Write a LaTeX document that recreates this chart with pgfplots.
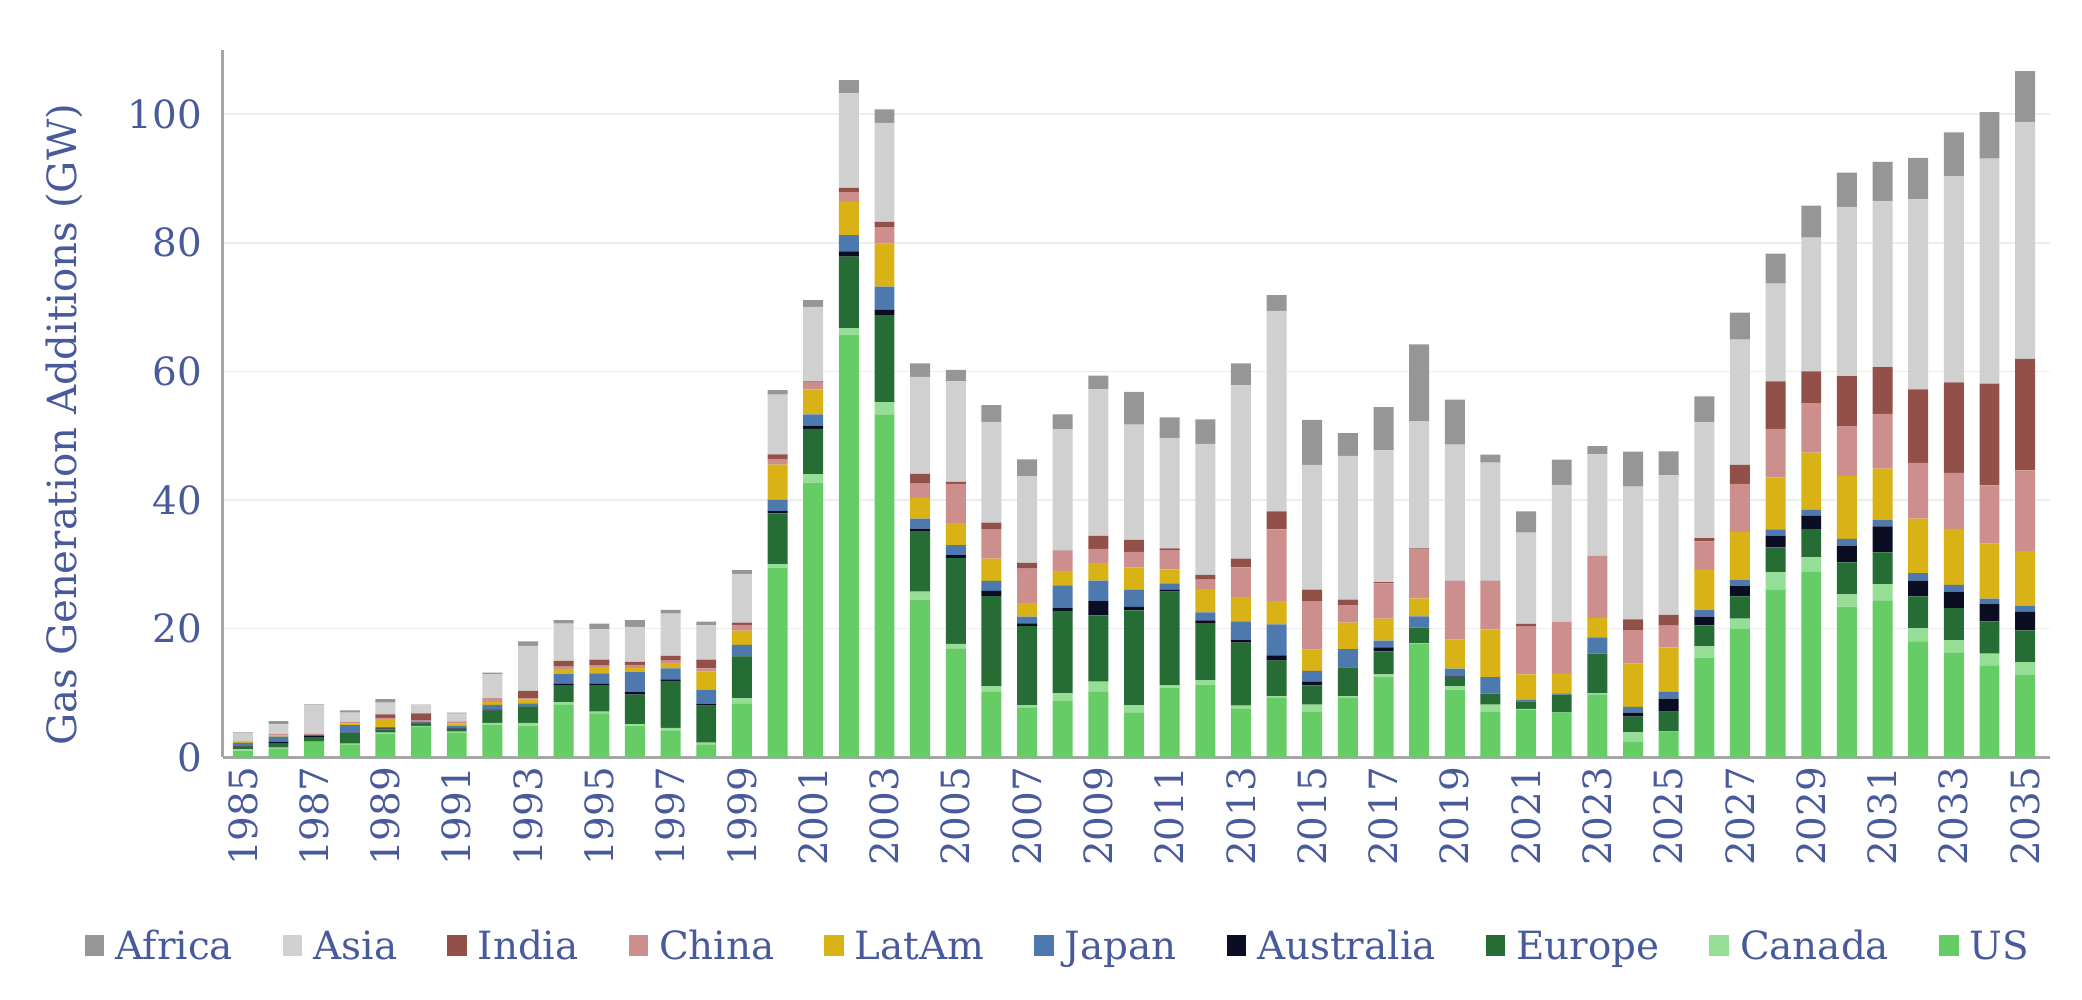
\documentclass[border=0pt]{standalone}
\usepackage{fontspec}
\setmainfont{DejaVu Serif}
\usepackage{pgfplots}
\usepackage{pgfplotstable}
\pgfplotsset{compat=1.18}
\definecolor{txt}{RGB}{72,90,155}
\definecolor{cAfrica}{RGB}{150,150,150}
\definecolor{cAsia}{RGB}{208,208,208}
\definecolor{cIndia}{RGB}{146,80,72}
\definecolor{cChina}{RGB}{204,143,141}
\definecolor{cLatAm}{RGB}{217,178,22}
\definecolor{cJapan}{RGB}{78,121,175}
\definecolor{cAustralia}{RGB}{11,14,34}
\definecolor{cEurope}{RGB}{37,108,53}
\definecolor{cCanada}{RGB}{150,221,150}
\definecolor{cUS}{RGB}{102,204,102}
\pgfplotsset{sqleg/.style={legend image code/.code={\fill[##1] (0pt,-3pt) rectangle (7pt,4.5pt);}}}
\pgfplotstableread{
year US Canada Europe Australia Japan LatAm China India Asia Africa
1985 1.0 0.2 0.4 0.1 0.5 0.15 0.1 0 1.25 0.15
1986 1.25 0.2 0.73 0.2 0.8 0.15 0.25 0 1.5 0.5
1987 2.4 0 0.7 0.2 0.15 0 0.15 0 4.5 0.1
1988 1.9 0.2 1.6 0.1 1.15 0.25 0.25 0 1.45 0.35
1989 3.65 0.15 0.5 0.15 0.2 1.25 0.2 0.55 1.8 0.55
1990 4.75 0.1 0.35 0.15 0.1 0 0.2 1.15 1.25 0.1
1991 3.7 0.25 0.45 0.1 0.3 0.45 0.3 0 1.2 0.15
1992 4.95 0.35 1.9 0.15 0.75 0.5 0.55 0 3.75 0.25
1993 4.9 0.4 2.6 0.1 0.35 0.6 0.2 1.15 7.0 0.7
1994 8.2 0.35 2.65 0.2 1.5 0.8 0.35 0.9 5.8 0.55
1995 6.8 0.25 4.15 0.2 1.6 1.0 0.3 0.85 4.7 0.9
1996 4.9 0.2 4.6 0.4 3.1 0.65 0.5 0.45 5.45 1.05
1997 4.15 0.4 7.3 0.25 1.7 0.8 0.4 0.75 6.55 0.6
1998 1.9 0.35 5.75 0.3 2.2 2.8 0.5 1.35 5.35 0.55
1999 8.26 0.9 6.5 0.1 1.7 2.2 0.9 0.35 7.6 0.55
2000 29.45 0.55 7.9 0.35 1.75 5.5 0.9 0.7 9.3 0.7
2001 42.7 1.3 7.05 0.5 1.75 3.9 1.05 0.2 11.6 1.05
2002 65.7 1.0 11.15 0.8 2.55 5.15 1.55 0.65 14.7 2.05
2003 53.3 1.9 13.55 0.8 3.65 6.7 2.55 0.8 15.4 2.1
2004 24.5 1.25 9.4 0.4 1.55 3.2 2.25 1.5 15.1 2.1
2005 16.9 0.7 13.35 0.45 1.55 3.45 6.1 0.3 15.65 1.8
2006 10.15 0.9 14.0 0.8 1.55 3.45 4.6 1.0 15.7 2.6
2007 7.65 0.4 12.3 0.45 1.05 2.1 5.35 0.9 13.5 2.6
2008 8.7 1.2 12.85 0.5 3.45 2.25 3.1 0.05 18.9 2.3
2009 10.15 1.6 10.3 2.2 3.2 2.7 2.25 2.0 22.8 2.15
2010 6.85 1.2 14.75 0.55 2.65 3.45 2.45 1.9 17.9 5.1
2011 10.8 0.4 14.55 0.25 1.0 2.2 2.9 0.35 17.2 3.2
2012 11.25 0.7 8.9 0.4 1.25 3.65 1.45 0.75 20.35 3.85
2013 7.5 0.5 9.8 0.45 2.85 3.8 4.6 1.35 27.0 3.4
2014 9.2 0.25 5.55 0.8 4.85 3.6 11.15 2.8 31.2 2.45
2015 7.0 1.15 3.0 0.55 1.7 3.3 7.55 1.8 19.4 7.0
2016 9.2 0.25 4.5 0 2.85 4.1 2.75 0.85 22.35 3.55
2017 12.5 0.35 3.6 0.6 1.05 3.45 5.45 0.2 20.5 6.75
2018 17.6 0.1 2.45 0 1.75 2.8 7.65 0.1 19.8 11.95
2019 10.5 0.5 1.45 0.1 1.2 4.5 9.1 0.05 21.2 7.0
2020 7.0 1.15 1.7 0 2.6 7.4 7.5 0.05 18.4 1.25
2021 7.3 0.2 1.15 0 0.3 3.9 7.45 0.4 14.2 3.3
2022 6.95 0 2.75 0 0.2 3.05 8.1 0 21.3 3.9
2023 9.75 0.2 6.15 0 2.5 3.0 9.75 0 15.75 1.25
2024 2.35 1.5 2.45 0.6 0.9 6.75 5.2 1.65 20.65 5.45
2025 4.0 0 3.05 2.05 1.05 6.9 3.4 1.65 21.7 3.75
2026 15.45 1.75 3.3 1.35 1.0 6.25 4.45 0.5 18.0 4.05
2027 19.9 1.65 3.45 1.6 1.0 7.4 7.5 2.95 19.5 4.2
2028 26.0 2.75 3.85 1.85 0.95 8.1 7.55 7.4 15.2 4.65
2029 28.8 2.25 4.4 2.05 0.95 8.9 7.7 4.95 20.8 5.0
2030 23.4 1.9 5.0 2.6 1.05 9.75 7.8 7.75 26.35 5.3
2031 24.3 2.6 4.95 4.05 1.05 7.9 8.55 7.25 25.8 6.15
2032 18.0 2.0 5.0 2.45 1.15 8.5 8.65 11.45 29.55 6.45
2033 16.2 2.0 4.95 2.6 1.05 8.7 8.7 14.1 32.05 6.85
2034 14.2 1.9 5.0 2.75 0.8 8.55 9.05 15.85 35.0 7.25
2035 12.75 2.0 4.95 2.9 0.95 8.5 12.55 17.35 36.85 7.9
}\data
\begin{document}
\begin{tikzpicture}
\begin{axis}[name=ax, scale only axis, width=658.2pt, height=254.7pt,
 ybar stacked, bar width=0.56,
 xmin=1984.44, xmax=2035.7, ymin=0, ymax=110,
 xtick={1985,1987,...,2035}, ytick={0,20,...,100},
 axis x line*=bottom, axis y line*=left,
 axis line style={draw=black!35, line width=1.1pt},
 major tick length=0,
 ymajorgrids, major grid style={draw=black!7, line width=0.6pt},
 /pgf/number format/assume math mode=true,
 /pgf/number format/1000 sep={},
 tick label style={font=\fontsize{14}{16}\selectfont, text=txt},
 xticklabel style={rotate=90, anchor=east},
 yticklabel style={anchor=east, xshift=-4pt},
 ylabel={Gas Generation Additions (GW)},
 ylabel style={at={(axis description cs:-0.087,0.47)}, anchor=center, font=\fontsize{14.5}{17}\selectfont, text=txt},
 legend columns=10, reverse legend,
 legend style={at={(axis description cs:0.458,-0.269)}, anchor=center, draw=none, fill=none, font=\fontsize{14}{16}\selectfont, text=txt,
   /tikz/every odd column/.append style={column sep=2pt},
   /tikz/every even column/.append style={column sep=16pt}},
]
\addplot[fill=cUS, draw=none, sqleg] table[x=year, y=US] {\data};
\addlegendentry{US}
\addplot[fill=cCanada, draw=none, sqleg] table[x=year, y=Canada] {\data};
\addlegendentry{Canada}
\addplot[fill=cEurope, draw=none, sqleg] table[x=year, y=Europe] {\data};
\addlegendentry{Europe}
\addplot[fill=cAustralia, draw=none, sqleg] table[x=year, y=Australia] {\data};
\addlegendentry{Australia}
\addplot[fill=cJapan, draw=none, sqleg] table[x=year, y=Japan] {\data};
\addlegendentry{Japan}
\addplot[fill=cLatAm, draw=none, sqleg] table[x=year, y=LatAm] {\data};
\addlegendentry{LatAm}
\addplot[fill=cChina, draw=none, sqleg] table[x=year, y=China] {\data};
\addlegendentry{China}
\addplot[fill=cIndia, draw=none, sqleg] table[x=year, y=India] {\data};
\addlegendentry{India}
\addplot[fill=cAsia, draw=none, sqleg] table[x=year, y=Asia] {\data};
\addlegendentry{Asia}
\addplot[fill=cAfrica, draw=none, sqleg] table[x=year, y=Africa] {\data};
\addlegendentry{Africa}
\end{axis}
\path (ax.south west) ++(-80.3pt,-87.2pt) rectangle ++(750pt,359.9pt);
\end{tikzpicture}
\end{document}
